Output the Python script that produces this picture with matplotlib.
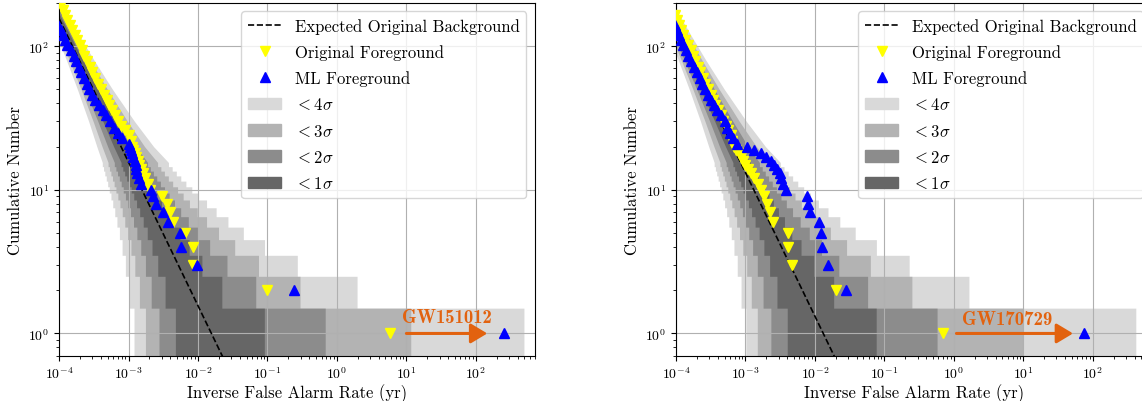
import numpy as np
import matplotlib
matplotlib.use("Agg")
from matplotlib import pyplot as plt
from matplotlib.patches import Patch
from matplotlib.lines import Line2D

plt.rcParams["font.family"] = "serif"
plt.rcParams["font.serif"] = ["cmr10"]
plt.rcParams["mathtext.fontset"] = "cm"
plt.rcParams["axes.formatter.use_mathtext"] = True

# ---- Poisson bands: expected-count bounds for each observed count ----
step_counts = list(range(1, 16))
smooth_counts = [20, 30, 50, 80, 120, 180, 260]

mu_lo_1s = [0.173, 0.708, 1.37, 2.09, 2.84, 3.62, 4.42, 5.23, 6.06, 6.89, 7.74, 8.59, 9.44, 10.31, 11.18,
            15.57, 24.56, 42.96, 71.08, 109.1, 166.6, 243.9]
mu_hi_1s = [3.30, 4.64, 5.92, 7.16, 8.38, 9.58, 10.77, 11.95, 13.11, 14.27, 15.42, 16.56, 17.70, 18.83, 19.96,
            25.54, 36.54, 58.12, 89.98, 131.98, 194.44, 277.14]
mu_lo_2s = [0.0230, 0.230, 0.597, 1.06, 1.59, 2.15, 2.77, 3.40, 4.06, 4.73, 5.42, 6.12, 6.84, 7.56, 8.30,
            12.09, 20.07, 36.88, 63.13, 99.10, 154.2, 228.8]
mu_hi_2s = [5.68, 7.35, 8.90, 10.39, 11.82, 13.22, 14.59, 15.94, 17.27, 18.58, 19.88, 21.16, 22.44, 23.70, 24.96,
            31.13, 43.11, 66.26, 99.99, 143.98, 208.90, 294.30]
mu_lo_3s = [0.00135, 0.053, 0.21, 0.462, 0.79, 1.175, 1.60, 2.07, 2.55, 3.07, 3.61, 4.17, 4.75, 5.34, 5.95,
            9.17, 16.17, 31.40, 55.79, 89.77, 142.4, 214.3]
mu_hi_3s = [8.90, 10.87, 12.65, 14.40, 16.05, 17.65, 19.20, 20.72, 22.21, 23.67, 25.11, 26.54, 27.95, 29.34, 30.72,
            37.47, 50.42, 75.13, 110.7, 156.7, 224.1, 312.1]
mu_lo_4s = [3.17e-5, 0.0080, 0.058, 0.172, 0.347, 0.578, 0.855, 1.175, 1.53, 1.915, 2.33, 2.76, 3.20, 3.67, 4.15,
            6.80, 12.82, 26.50, 49.05, 81.04, 131.2, 200.4]
mu_hi_4s = [13.0, 15.25, 17.3, 19.3, 21.1, 22.9, 24.6, 26.3, 27.9, 29.5, 31.1, 32.6, 34.2, 35.7, 37.2,
            44.6, 58.5, 84.8, 122.2, 170.1, 239.9, 330.7]

# background count rate (counts x yr) of each panel
rate_left = 0.0156
rate_right = 0.0132

# expected background lines
bg_ifar_left = [1e-4, 1e-1]
bg_count_left = [156, 0.156]
bg_ifar_right = [1e-4, 1e-1]
bg_count_right = [132, 0.132]

# ---- foreground, left panel ----
orig_n_left = list(range(1, 21)) + [22, 24, 26, 28, 30, 33, 36, 39, 42, 46, 50, 55, 60, 66, 72, 79, 86, 94,
                                    102, 111, 120, 130, 141, 153, 166, 180, 195, 210]
orig_ifar_left = [5.8, 0.10, 8.6e-3, 8.4e-3, 6.6e-3, 4.3e-3, 3.9e-3, 3.6e-3, 3.0e-3, 2.05e-3,
                  1.9e-3, 1.75e-3, 1.6e-3, 1.5e-3, 1.42e-3, 1.35e-3, 1.28e-3, 1.22e-3, 1.17e-3, 1.12e-3,
                  1.10e-3, 1.0e-3, 8.8e-4, 7.8e-4, 7.1e-4, 6.4e-4, 5.8e-4, 5.3e-4, 4.85e-4, 4.4e-4,
                  4.0e-4, 3.6e-4, 3.3e-4, 3.0e-4, 2.75e-4, 2.5e-4, 2.3e-4, 2.15e-4, 1.98e-4, 1.82e-4,
                  1.68e-4, 1.55e-4, 1.43e-4, 1.32e-4, 1.22e-4, 1.14e-4, 1.07e-4, 1.0e-4]
ml_n_left = list(range(1, 22)) + [23, 25, 27, 30, 33, 36, 39, 42, 46, 50, 55, 60, 66, 72, 79, 86, 94,
                                  102, 111, 120, 130, 141]
ml_ifar_left = [250, 0.245, 9.6e-3, 5.7e-3, 5.5e-3, 3.75e-3, 3.1e-3, 2.5e-3, 2.27e-3, 2.1e-3,
                1.5e-3, 1.4e-3, 1.34e-3, 1.3e-3, 1.27e-3, 1.22e-3, 1.17e-3, 1.12e-3, 1.08e-3, 1.05e-3, 1.02e-3,
                8.0e-4, 7.0e-4, 6.2e-4, 5.4e-4, 4.8e-4, 4.3e-4, 3.8e-4, 3.3e-4, 2.95e-4, 2.7e-4,
                2.5e-4, 2.3e-4, 2.1e-4, 1.95e-4, 1.78e-4, 1.62e-4, 1.48e-4, 1.32e-4, 1.22e-4, 1.13e-4,
                1.05e-4, 0.98e-4]

# ---- foreground, right panel ----
orig_n_right = list(range(1, 21)) + [22, 24, 26, 28, 30, 33, 36, 39, 42, 46, 50, 55, 60, 66, 72, 79, 86, 94,
                                     102, 111, 120, 130, 141, 153, 166]
orig_ifar_right = [0.71, 0.020, 4.7e-3, 4.1e-3, 4.1e-3, 2.5e-3, 2.26e-3, 2.03e-3, 1.85e-3, 1.65e-3,
                   1.5e-3, 1.35e-3, 1.22e-3, 1.1e-3, 1.0e-3, 9.2e-4, 8.6e-4, 8.0e-4, 7.4e-4, 6.8e-4,
                   6.5e-4, 6.1e-4, 5.7e-4, 5.2e-4, 4.8e-4, 4.4e-4, 4.0e-4, 3.7e-4, 3.45e-4, 3.15e-4,
                   2.9e-4, 2.65e-4, 2.45e-4, 2.25e-4, 2.07e-4, 1.9e-4, 1.75e-4, 1.62e-4, 1.48e-4, 1.37e-4,
                   1.27e-4, 1.18e-4, 1.1e-4, 1.03e-4, 0.96e-4]
ml_n_right = list(range(1, 22)) + [23, 25, 27, 30, 33, 36, 39, 42, 46, 50, 55, 60, 66, 72, 79, 86, 94,
                                   102, 111, 120, 130, 141]
ml_ifar_right = [75, 0.028, 0.0156, 0.0126, 0.0122, 0.0114, 8.5e-3, 7.9e-3, 7.8e-3, 3.8e-3,
                 3.45e-3, 3.3e-3, 3.1e-3, 2.85e-3, 2.6e-3, 2.3e-3, 2.0e-3, 1.7e-3, 1.35e-3, 1.05e-3, 7.5e-4,
                 6.6e-4, 6.0e-4, 5.5e-4, 5.0e-4, 4.5e-4, 3.9e-4, 3.5e-4, 3.2e-4, 2.9e-4, 2.6e-4,
                 2.4e-4, 2.2e-4, 2.0e-4, 1.82e-4, 1.65e-4, 1.5e-4, 1.38e-4, 1.27e-4, 1.17e-4, 1.1e-4,
                 1.04e-4, 0.98e-4]

# annotations: (name, arrow start, arrow tip, text x, text y)
event_left = ("GW151012", 10, 146, 38, 1.31)
event_right = ("GW170729", 1.09, 52, 5.9, 1.27)

band_colors = {4: "#d9d9d9", 3: "#b3b3b3", 2: "#8c8c8c", 1: "#666666"}
bands = [(4, mu_lo_4s, mu_hi_4s), (3, mu_lo_3s, mu_hi_3s), (2, mu_lo_2s, mu_hi_2s), (1, mu_lo_1s, mu_hi_1s)]
orange = "#e2620f"


def draw_bands(ax, rate):
    ns = len(step_counts)
    n = np.array(step_counts, dtype=float)
    y = np.concatenate([np.column_stack([n - 0.5, n + 0.5]).ravel(), smooth_counts])
    for sig, lo, hi in bands:
        xl = rate / np.array(hi)
        xr = rate / np.array(lo)
        xl_all = np.concatenate([np.repeat(xl[:ns], 2), xl[ns:]])
        xr_all = np.concatenate([np.repeat(xr[:ns], 2), xr[ns:]])
        ax.fill_betweenx(y, xl_all, xr_all, color=band_colors[sig], lw=0, zorder=1)


def panel(ax, rate, bg_x, bg_y, on, oi, mn, mi, event):
    draw_bands(ax, rate)
    ax.plot(bg_x, bg_y, "--", color="black", lw=1.2, zorder=2)
    ax.plot(oi, on, "v", color="yellow", ms=6.8, ls="none", zorder=3)
    ax.plot(mi, mn, "^", color="blue", ms=6.8, ls="none", zorder=3)
    name, x0, x1, tx, ty = event
    ax.annotate("", xy=(x1, 1), xytext=(x0, 1),
                arrowprops=dict(arrowstyle="-|>,head_length=0.5,head_width=0.3", color=orange,
                                lw=2.2, shrinkA=0, shrinkB=0, mutation_scale=20), zorder=4)
    ax.text(tx, ty, name, color=orange, fontsize=13.5, family="cmb10", ha="center", va="center", zorder=4)
    ax.set_xscale("log")
    ax.set_yscale("log")
    ax.set_xlim(1e-4, 700)
    ax.set_ylim(0.7, 200)
    ax.grid(True)
    ax.tick_params(labelsize=10)
    ax.set_xlabel("Inverse False Alarm Rate (yr)", fontsize=12, labelpad=1.5)
    ax.set_ylabel("Cumulative Number", fontsize=12)
    handles = [
        Line2D([], [], ls="--", color="black", lw=1.2, label="Expected Original Background"),
        Line2D([], [], marker="v", color="yellow", ls="none", ms=6.8, label="Original Foreground"),
        Line2D([], [], marker="^", color="blue", ls="none", ms=6.8, label="ML Foreground"),
        Patch(color=band_colors[4], label=r"$<4\sigma$"),
        Patch(color=band_colors[3], label=r"$<3\sigma$"),
        Patch(color=band_colors[2], label=r"$<2\sigma$"),
        Patch(color=band_colors[1], label=r"$<1\sigma$"),
    ]
    ax.legend(handles=handles, loc="upper right", fontsize=12, labelspacing=0.62)


fig = plt.figure(figsize=(11.42, 4.02), dpi=100)
ax1 = fig.add_axes([0.0517, 0.1127, 0.4164, 0.8774])
ax2 = fig.add_axes([0.5919, 0.1127, 0.4164, 0.8774])

panel(ax1, rate_left, bg_ifar_left, bg_count_left, orig_n_left, orig_ifar_left,
      ml_n_left, ml_ifar_left, event_left)
panel(ax2, rate_right, bg_ifar_right, bg_count_right, orig_n_right, orig_ifar_right,
      ml_n_right, ml_ifar_right, event_right)

fig.savefig("out.png", dpi=100)
